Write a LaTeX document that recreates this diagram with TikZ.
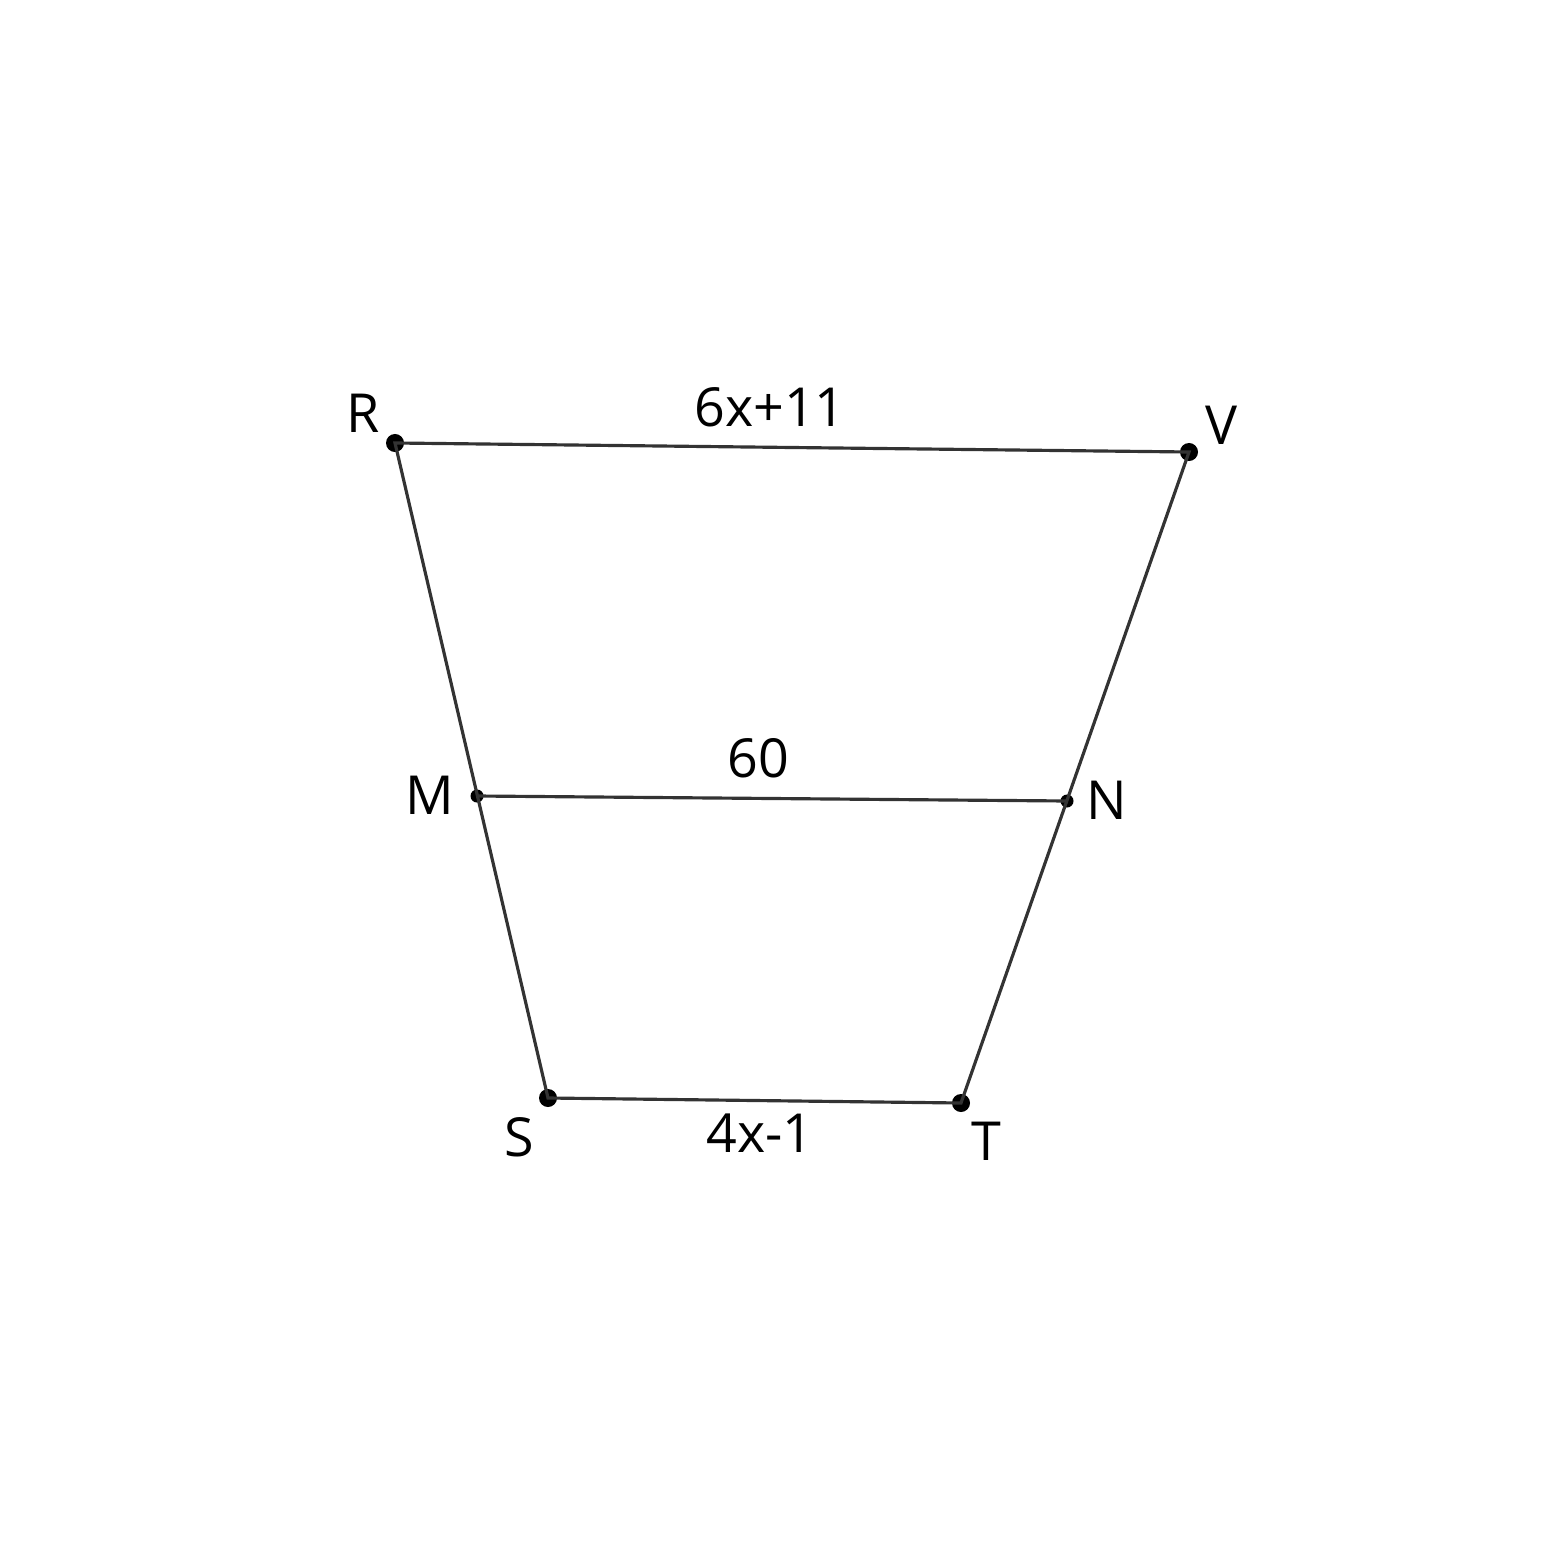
\documentclass[tikz,border=0pt]{standalone}
\usepackage{fontspec}
\setmainfont{Open Sans}
\usepackage{tikz}
\usetikzlibrary{positioning}
\definecolor{tzline}{HTML}{333333}
\tikzset{
  tzedge/.style={draw=tzline, line width=0.9pt},
  tzdot/.style={circle, fill=black, inner sep=0pt, minimum size=1.8mm},
  tzsmalldot/.style={circle, fill=black, inner sep=0pt, minimum size=1.3mm},
  tzlabel/.style={font=\fontsize{15.3}{18}\selectfont, inner sep=0pt},
}
\begin{document}
\begin{tikzpicture}[x=0.01cm, y=-0.01cm]
  \useasboundingbox (0,0) rectangle (1546,1546);
  \node[tzdot] (R) at (395,443) {};
  \node[tzdot] (V) at (1189,452) {};
  \node[tzsmalldot] (M) at (477,796) {};
  \node[tzsmalldot] (N) at (1067,801) {};
  \node[tzdot] (S) at (548,1098) {};
  \node[tzdot] (T) at (961,1103) {};

  \draw[tzedge] (R.center) -- (V.center) -- (T.center) -- (S.center) -- cycle;
  \draw[tzedge] (M.center) -- (N.center);

  \node[tzlabel] (lR) at (363,413) {R};
  \node[tzlabel] (lV) at (1221,425) {V};
  \node[tzlabel] (lM) at (430,795) {M};
  \node[tzlabel] (lN) at (1107,800) {N};
  \node[tzlabel] (lS) at (519,1137) {S};
  \node[tzlabel] (lT) at (986,1141) {T};
  \node[tzlabel] (top) at (770,407) {6x+11};
  \node[tzlabel] (mid) at (758,758) {60};
  \node[tzlabel] (bot) at (760,1133) {4x-1};
\end{tikzpicture}
\end{document}
